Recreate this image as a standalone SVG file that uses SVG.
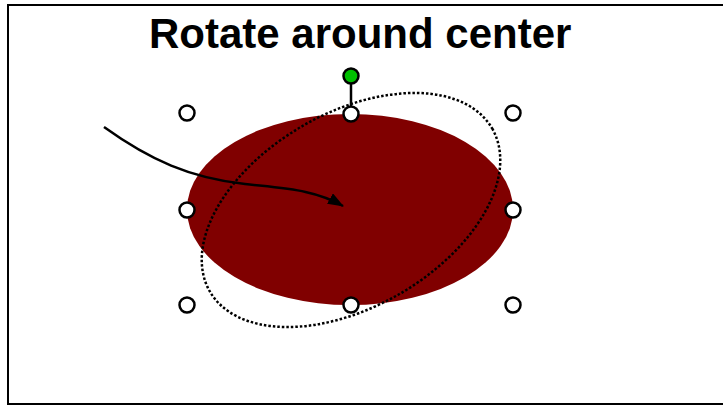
<svg xmlns="http://www.w3.org/2000/svg" width="723" height="406" viewBox="0 0 723 406">
<style>
.handle{fill:#fff;stroke:#000;stroke-width:2.5}
.title{font-family:"Liberation Sans",Arial,sans-serif;font-weight:bold;font-size:42px;fill:#000}
</style>
<defs>
<marker id="arrow" viewBox="0 0 16 12" refX="15" refY="6" markerWidth="16" markerHeight="12" markerUnits="userSpaceOnUse" orient="auto">
<path d="M0,0 L16,6 L0,12 Z" fill="#000"/>
</marker>
</defs>
<rect x="0" y="0" width="723" height="406" fill="#fff"/>
<rect x="8" y="5" width="730" height="399" fill="none" stroke="#000" stroke-width="2"/>
<text class="title" x="149" y="48">Rotate around center</text>
<g id="shape">
<ellipse cx="350" cy="209.5" rx="163" ry="95.5" fill="#800000"/>
</g>
<g id="rotated-outline">
<ellipse cx="351" cy="210" rx="163" ry="97" fill="none" stroke="#000" stroke-width="2.5" stroke-dasharray="2.5 2" transform="rotate(-30 351 210)"/>
</g>
<g id="connectors">
<path d="M104,127 C150,160 190,178 245,184 C290,189 315,190 343,206" fill="none" stroke="#000" stroke-width="2.5" marker-end="url(#arrow)"/>
<line x1="351" y1="84" x2="351" y2="106" stroke="#000" stroke-width="2.5"/>
</g>
<g id="handles">
<circle class="handle" cx="187" cy="113" r="7.5"/>
<circle class="handle" cx="351" cy="114" r="7.5"/>
<circle class="handle" cx="513" cy="113" r="7.5"/>
<circle class="handle" cx="187" cy="210" r="7.5"/>
<circle class="handle" cx="513" cy="210" r="7.5"/>
<circle class="handle" cx="187" cy="305" r="7.5"/>
<circle class="handle" cx="351" cy="305" r="7.5"/>
<circle class="handle" cx="513" cy="305" r="7.5"/>
</g>
<g id="rotate-handle">
<circle cx="351" cy="76" r="7.5" fill="#00c000" stroke="#000" stroke-width="2.5"/>
</g>
</svg>
